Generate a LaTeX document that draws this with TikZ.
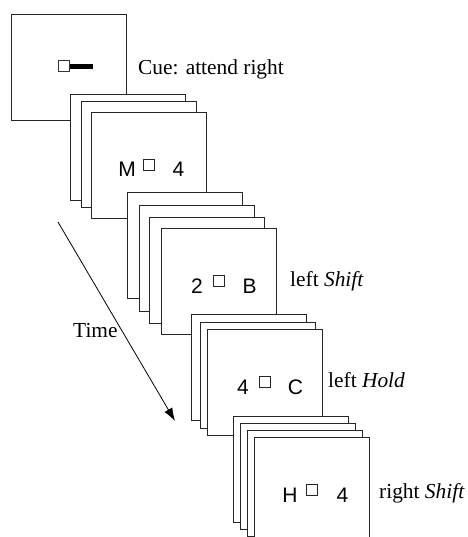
\documentclass[tikz,border=0pt]{standalone}
\usepackage{fontspec}
\setmainfont{Liberation Serif}
\newfontfamily\hv{Liberation Sans}
\usetikzlibrary{arrows.meta}
\begin{document}
\begin{tikzpicture}[x=1pt,y=-1pt,
  frame/.style={draw=black!85, line width=0.9pt, fill=white, minimum width=115pt, minimum height=106pt, inner sep=0pt, outer sep=0pt, anchor=north west},
  lbl/.style={font=\fontsize{21.4}{24}\selectfont, anchor=base west, inner sep=0pt},
  ch/.style={font=\hv\fontsize{21}{24}\selectfont, anchor=base, inner sep=0pt},
  sq/.style={draw=black!85, line width=0.8pt, fill=white, minimum size=11pt, inner sep=0pt}]
\useasboundingbox (0,0) rectangle (467,537);
\clip (0,0) rectangle (467,537);
% cue
\node[frame] (cue) at (11,14) {};
\node[draw=black!80, line width=1pt, fill=white, minimum size=11pt, inner sep=0pt] (cuesq) at (64,66.5) {};
\fill[black] ([yshift=2.5pt]cuesq.east) rectangle ++(23,5);
\node[lbl] (cuelbl) at (138,75) {Cue: attend right};
% group 1
\node[frame] (a1) at (70,94) {};
\node[frame] (a2) at (81,101) {};
\node[frame] (a3) at (91,112) {};
\node[sq] (as) at (a3.center) {};
\node[ch] (al) at ([xshift=-21.5pt,yshift=-12pt]a3.center) {M};
\node[ch] (ar) at ([xshift=30pt,yshift=-12pt]a3.center) {4};
% time arrow
\coordinate (ts) at (58,222);
\coordinate (te) at (175,421);
\draw[line width=0.8pt, -{Latex[length=13pt,width=9pt]}] (ts) -- (te);
\node[lbl] (time) at (73,337) {Time};
% group 2
\node[frame] (b1) at (127,192) {};
\node[frame] (b2) at (139,205) {};
\node[frame] (b3) at (149,217) {};
\node[frame] (b4) at (161,228) {};
\node[sq] (bs) at (b4.center) {};
\node[ch] (bl) at ([xshift=-21.5pt,yshift=-12pt]b4.center) {2};
\node[ch] (br) at ([xshift=31pt,yshift=-12pt]b4.center) {B};
\node[lbl] (blbl) at (290,286) {left \textit{Shift}};
% group 3
\node[frame] (c1) at (191,314) {};
\node[frame] (c2) at (200,322) {};
\node[frame] (c3) at (207,329) {};
\node[sq] (cs) at (c3.center) {};
\node[ch] (cl) at ([xshift=-21.5pt,yshift=-12pt]c3.center) {4};
\node[ch] (cr) at ([xshift=31pt,yshift=-12pt]c3.center) {C};
\node[lbl] (clbl) at (328,387) {left \textit{Hold}};
% group 4
\node[frame] (d1) at (233,416) {};
\node[frame] (d2) at (240,423) {};
\node[frame] (d3) at (247,430) {};
\node[frame] (d4) at (254,437) {};
\node[sq] (ds) at (d4.center) {};
\node[ch] (dl) at ([xshift=-21.5pt,yshift=-12pt]d4.center) {H};
\node[ch] (dr) at ([xshift=31pt,yshift=-12pt]d4.center) {4};
\node[lbl] (dlbl) at (379,498) {right \textit{Shift}};
\end{tikzpicture}
\end{document}
